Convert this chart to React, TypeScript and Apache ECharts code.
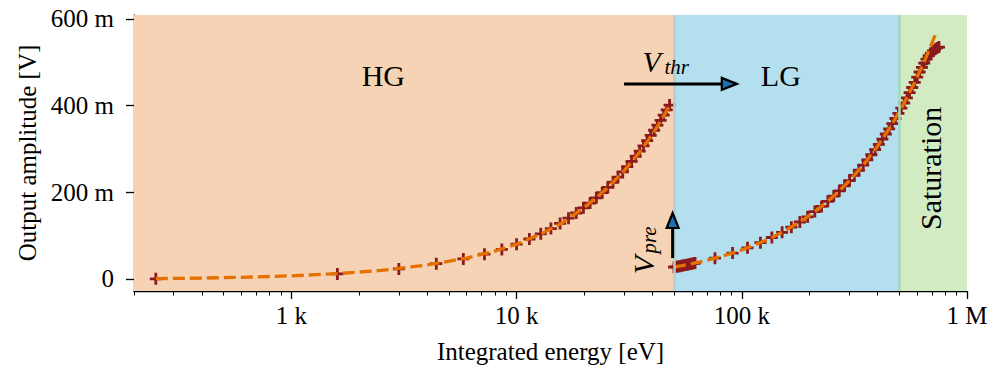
import React, { useEffect, useRef } from "react";
import * as echarts from "echarts";

// ---------- data (x in eV, y in mV) ----------
const HG_X = [250, 1600, 3000, 4400, 5800, 7200, 8600, 10000, 11400, 12800, 14200, 15600, 17000, 18400, 19800, 21200, 22600, 24000, 25400, 26800, 28200, 29600, 31000, 32400, 33800, 35200, 36600, 38000, 39400, 40800, 42200, 43600, 45000, 46400, 47800];
const HG_Y = [0, 11.5, 23, 35, 46, 57, 68, 80, 92, 104, 116, 128, 140, 152, 164, 175, 187, 199, 211, 223, 235, 247, 259, 271, 283, 295, 307, 319, 331, 343, 355, 366, 378, 390, 401];

const HG_FIT_X = [250, 400, 600, 1000, 1600, 2500, 4000, 6000, 8000, 10000, 13000, 16000, 20000, 25000, 30000, 35000, 40000, 44000, 47800];
const HG_FIT_Y = [0.5, 1.8, 3.5, 7, 12, 19.5, 32, 48, 64, 80, 105, 130, 165, 207, 249, 291, 333, 367, 400];

const LG_X_K = [50, 51, 52, 53, 54, 55, 56, 57, 58, 59, 60, 61, 62, 76, 91, 106, 121, 136, 151, 166, 181, 196, 211, 226, 241, 256, 271, 286, 301, 316, 331, 346, 361, 376, 391, 406, 421, 436, 451, 466, 481, 496, 511, 526, 541, 556, 571, 586, 601, 616, 631, 646, 661, 676, 691, 706, 721, 736, 751];
const LG_Y = [27.0, 27.8, 28.6, 29.4, 30.2, 31.0, 31.8, 32.6, 33.4, 34.2, 35.0, 35.8, 36.6, 47.7, 59.6, 71.6, 83.5, 95.5, 107.4, 119.3, 131.3, 143.2, 155.2, 167.1, 179.0, 191.0, 202.9, 214.9, 226.8, 238.7, 250.7, 262.6, 274.6, 286.5, 298.4, 310.4, 322.3, 334.3, 346.2, 358.1, 370.1, 382.0, 394.0, 405.9, 417.8, 429.8, 441.7, 453.7, 465.6, 477.5, 488, 498, 507, 515, 521, 526, 530, 533, 535];

const LG_FIT_X_K = [50, 55, 60, 70, 80, 90, 100, 120, 140, 160, 190, 220, 260, 300, 350, 400, 460, 520, 580, 650, 728];
const LG_FIT_Y = [27.0, 31.0, 35.0, 42.9, 50.9, 58.8, 66.8, 82.7, 98.6, 114.6, 138.4, 162.3, 194.2, 226.0, 265.8, 305.6, 353.4, 401.1, 448.9, 504.6, 566.7];

const X_MAJOR = [1000, 10000, 100000, 1000000];
const X_MINOR = [200, 300, 400, 500, 600, 700, 800, 900, 2000, 3000, 4000, 5000, 6000, 7000, 8000, 9000, 20000, 30000, 40000, 50000, 60000, 70000, 80000, 90000, 200000, 300000, 400000, 500000, 600000, 700000, 800000, 900000];
const Y_TICKS = [0, 200, 400, 600];

const X_MIN = 200;
const X_MAX = 1000000;
const Y_MIN = -28;
const Y_MAX = 609;

const HG_END = 50000;
const LG_END = 500000;

// ---------- styles ----------
const FONT = '"Liberation Serif", "Times New Roman", serif';
const HG_BG = "#f5d3b4";
const LG_BG = "#b3dfee";
const SAT_BG = "#d2ebc2";
const MARK = "#8a1a1c";
const FIT = "#e57200";
const PLUS = "path://M4.6,0H7.4V4.6H12V7.4H7.4V12H4.6V7.4H0V4.6H4.6Z";

const fmtX = (v: number) => {
  const r = Math.round(v);
  if (r >= 1000000) return `${Math.round(r / 1000000)} M`;
  return `${Math.round(r / 1000)} k`;
};
const fmtY = (v: number) => (Math.round(v) === 0 ? "0" : `${Math.round(v)} m`);

export default function App() {
  const ref = useRef<HTMLDivElement>(null);
  useEffect(() => {
    if (!ref.current) return;
    const chart = echarts.init(ref.current, null, { renderer: "svg" });
    const axisColor = "#000";
    const option: any = {
      animation: false,
      grid: { left: 134, right: 24, top: 15, bottom: 78 },
      xAxis: [
        {
          type: "log",
          logBase: 10,
          min: X_MIN,
          max: X_MAX,
          position: "bottom",
          name: "Integrated energy [eV]",
          nameLocation: "middle",
          nameGap: 48,
          nameTextStyle: { fontFamily: FONT, fontSize: 25, color: "#000" },
          axisLine: { onZero: false, lineStyle: { color: axisColor, width: 1.3 } },
          axisTick: { customValues: X_MAJOR, length: 8, lineStyle: { color: axisColor, width: 1.3 } },
          axisLabel: { customValues: X_MAJOR, formatter: fmtX, fontFamily: FONT, fontSize: 25, color: "#000", margin: 12 },
          splitLine: { show: false },
          minorTick: { show: false },
        },
        {
          type: "log",
          logBase: 10,
          min: X_MIN,
          max: X_MAX,
          position: "bottom",
          offset: 0,
          axisLine: { show: false, onZero: false },
          axisTick: { customValues: X_MINOR, length: 4.5, lineStyle: { color: axisColor, width: 1 } },
          axisLabel: { show: false },
          splitLine: { show: false },
        },
      ],
      yAxis: {
        type: "value",
        min: Y_MIN,
        max: Y_MAX,
        name: "Output amplitude [V]",
        nameLocation: "middle",
        nameRotate: 90,
        nameGap: 94,
        nameTextStyle: { fontFamily: FONT, fontSize: 25, color: "#000" },
        axisLine: { show: true, onZero: false, lineStyle: { color: axisColor, width: 1.3 } },
        axisTick: { show: true, customValues: Y_TICKS, length: 8, lineStyle: { color: axisColor, width: 1.3 } },
        axisLabel: { customValues: Y_TICKS, formatter: fmtY, fontFamily: FONT, fontSize: 25, color: "#000", margin: 20 },
        splitLine: { show: false },
      },
      series: [
        {
          type: "line",
          name: "regions",
          z: 1,
          silent: true,
          data: HG_X.map((x, i) => [x, HG_Y[i]]),
          showSymbol: false,
          lineStyle: { opacity: 0 },
          markArea: {
            silent: true,
            data: [
              [{ xAxis: X_MIN, itemStyle: { color: HG_BG, opacity: 1 } }, { xAxis: HG_END }],
              [{ xAxis: HG_END, itemStyle: { color: LG_BG, opacity: 1 } }, { xAxis: LG_END }],
              [{ xAxis: LG_END, itemStyle: { color: SAT_BG, opacity: 1 } }, { xAxis: X_MAX }],
            ],
          },
          markLine: {
            silent: true,
            symbol: ["none", "none"],
            label: { show: false },
            data: [
              { xAxis: HG_END, lineStyle: { color: "#b6cdcc", width: 2.5, type: "solid" } },
              { xAxis: LG_END, lineStyle: { color: "#a4d8bb", width: 2.5, type: "solid" } },
            ],
          },
        },
        {
          type: "scatter",
          name: "HG data",
          z: 3,
          symbol: PLUS,
          symbolSize: 12,
          itemStyle: { color: MARK, opacity: 1 },
          data: HG_X.map((x, i) => [x, HG_Y[i]]),
        },
        {
          type: "scatter",
          name: "LG data",
          z: 3,
          symbol: PLUS,
          symbolSize: 12,
          itemStyle: { color: MARK, opacity: 1 },
          data: LG_X_K.map((x, i) => [x * 1000, LG_Y[i]]),
        },
        {
          type: "line",
          name: "HG fit",
          z: 4,
          showSymbol: false,
          symbol: "none",
          data: HG_FIT_X.map((x, i) => [x, HG_FIT_Y[i]]),
          lineStyle: { color: FIT, width: 3.3, type: [12, 5] },
        },
        {
          type: "line",
          name: "LG fit",
          z: 4,
          showSymbol: false,
          symbol: "none",
          data: LG_FIT_X_K.map((x, i) => [x * 1000, LG_FIT_Y[i]]),
          lineStyle: { color: FIT, width: 3.3, type: [12, 5] },
        },
      ],
    };
    chart.setOption(option);

    const px = (v: [number, number]) =>
      chart.convertToPixel({ xAxisIndex: 0, yAxisIndex: 0 }, v) as number[];

    const label = (pos: number[], text: string, size: number, rot = 0, italic = false) => ({
      type: "text",
      x: pos[0],
      y: pos[1],
      rotation: rot,
      z: 10,
      style: {
        text,
        font: `${italic ? "italic " : ""}${size}px ${FONT}`,
        fill: "#000",
        align: "center",
        verticalAlign: "middle",
      },
    });

    const hg = px([2560, 470]);
    const lg = px([149000, 470]);
    const sat = px([692000, 255]);
    const thrA = px([30000, 450]);
    const thrB = px([95000, 450]);
    const thrV = px([39800, 502]);
    const preA = px([49300, 48]);
    const preB = px([49300, 152]);
    const preV = px([36500, 32]);

    const head = 15;
    const hw = 6;
    const arrowStroke = { stroke: "#000", lineWidth: 2.2, fill: "#1f6fb4" };

    const graphic: any[] = [
      label(hg, "HG", 30),
      label(lg, "LG", 30),
      label(sat, "Saturation", 30, Math.PI / 2),
      label(thrV, "V", 30, 0, true),
      label([thrV[0] + 25, thrV[1] + 6], "thr", 21, 0, true),
      label(preV, "V", 30, Math.PI / 2, true),
      label([preV[0] + 6, preV[1] - 25], "pre", 21, Math.PI / 2, true),
      {
        type: "line",
        z: 10,
        shape: { x1: thrA[0], y1: thrA[1], x2: thrB[0] - head + 1, y2: thrB[1] },
        style: { stroke: "#000", lineWidth: 3 },
      },
      {
        type: "polygon",
        z: 11,
        shape: { points: [[thrB[0], thrB[1]], [thrB[0] - head, thrB[1] - hw], [thrB[0] - head, thrB[1] + hw]] },
        style: arrowStroke,
      },
      {
        type: "line",
        z: 10,
        shape: { x1: preA[0], y1: preA[1], x2: preB[0], y2: preB[1] + head - 1 },
        style: { stroke: "#000", lineWidth: 3 },
      },
      {
        type: "polygon",
        z: 11,
        shape: { points: [[preB[0], preB[1]], [preB[0] - hw, preB[1] + head], [preB[0] + hw, preB[1] + head]] },
        style: arrowStroke,
      },
    ];
    chart.setOption({ graphic });

    return () => chart.dispose();
  }, []);

  return (
    <div
      ref={ref}
      style={{ position: "fixed", left: 0, top: 0, width: 991, height: 369, background: "#fff" }}
    />
  );
}
